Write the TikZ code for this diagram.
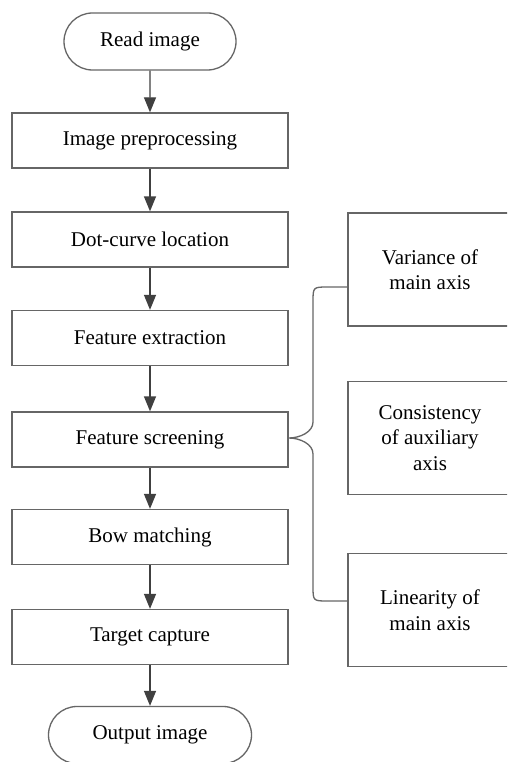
\documentclass[tikz,border=0pt]{standalone}
\usepackage{fontspec}
\setmainfont{Liberation Serif}
\newfontfamily\tnrfont{Liberation Serif}
\usetikzlibrary{arrows.meta,shapes.misc}
\begin{document}
\begin{tikzpicture}[x=1pt,y=-1pt,
  every node/.style={font=\tnrfont\fontsize{21}{25.5}\selectfont, inner sep=0pt},
  procbox/.style={draw=black!60, line width=1.3pt, fill=white, minimum width=276pt, minimum height=55pt},
  termbox/.style={draw=black!60, line width=1.3pt, rounded rectangle, minimum height=57pt},
  sidebox/.style={draw=black!60, line width=1.3pt, minimum width=164pt, minimum height=113pt, align=center},
  flowarrow/.style={draw=black!75, line width=1.3pt, -{Triangle[length=15pt,width=12pt]}},
  bracestyle/.style={draw=black!60, line width=1.3pt}]
\useasboundingbox (0,0) rectangle (507,762);
\clip (0,0) rectangle (507,762);
\fill[white] (0,0) rectangle (507,762);

\node[termbox, minimum width=172pt] (read) at (150,41.5) {Read image};
\node[procbox] (pre) at (150,140.5) {Image preprocessing};
\node[procbox] (dot) at (150,239.5) {Dot-curve location};
\node[procbox] (fex) at (150,338) {Feature extraction};
\node[procbox] (fsc) at (150,439.5) {Feature screening};
\node[procbox] (bow) at (150,537) {Bow matching};
\node[procbox] (tgt) at (150,637) {Target capture};
\node[termbox, minimum width=203pt] (out) at (150,735) {Output image};

\node[sidebox] (r1) at (430,269.5) {Variance of\\main axis};
\node[sidebox] (r2) at (430,438) {Consistency\\of auxiliary\\axis};
\node[sidebox] (r3) at (430,610) {Linearity of\\main axis};

\draw[flowarrow] (read) -- (pre);
\draw[flowarrow] (pre) -- (dot);
\draw[flowarrow] (dot) -- (fex);
\draw[flowarrow] (fex) -- (fsc);
\draw[flowarrow] (fsc) -- (bow);
\draw[flowarrow] (bow) -- (tgt);
\draw[flowarrow] (tgt) -- (out);

\coordinate (btop) at (r1.west |- 0,287);
\coordinate (bbot) at (r3.west |- 0,601);
\coordinate (btip) at (fsc.east |- 0,438);
\draw[bracestyle] (btop) -- (328,287) .. controls (313,287) .. (313,302) -- (313,422)
  .. controls (313,432) and (300,438) .. (btip)
  .. controls (300,438) and (313,444) .. (313,454) -- (313,586)
  .. controls (313,601) .. (328,601) -- (bbot);
\end{tikzpicture}
\end{document}
